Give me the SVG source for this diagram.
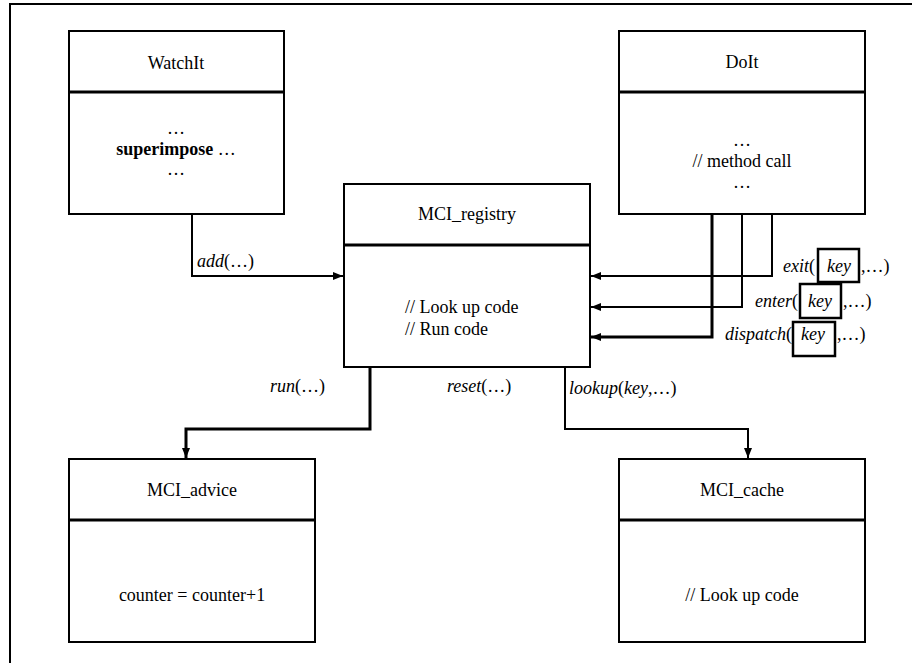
<svg xmlns="http://www.w3.org/2000/svg" width="912" height="663" viewBox="0 0 912 663">
<defs>
<marker id="ah" viewBox="0 0 10 8" refX="10" refY="4" markerWidth="10" markerHeight="8" markerUnits="userSpaceOnUse" orient="auto">
<path d="M0,0 L10,4 L0,8 z" fill="#000"/>
</marker>
<style>
.c{text-anchor:middle}
.i{font-style:italic}
.b{font-weight:bold}
.box{fill:#fff;stroke:#000;stroke-width:2}
.sep{stroke:#000;stroke-width:3}
.ln{fill:none;stroke:#000;stroke-width:2}
.th{fill:none;stroke:#000;stroke-width:3}
.kb{fill:none;stroke:#000;stroke-width:2.5}
</style>
</defs>
<rect width="912" height="663" fill="#fff"/>
<path d="M10,667 V4 H916" fill="none" stroke="#000" stroke-width="2"/>
<g font-family="'Liberation Serif', serif" font-size="18" fill="#000">
<g id="connectors">
<path class="ln" d="M192,214 V276 H343" marker-end="url(#ah)"/>
<path class="ln" d="M772,214 V276 H591" marker-end="url(#ah)"/>
<path class="ln" d="M742,214 V307 H591" marker-end="url(#ah)"/>
<path class="th" d="M712,214 V337 H591" marker-end="url(#ah)"/>
<path class="th" d="M370,367 V429 H186 V458" marker-end="url(#ah)"/>
<path class="ln" d="M565,367 V429 H748 V458" marker-end="url(#ah)"/>
<text x="197" y="267"><tspan class="i">add</tspan>(…)</text>
<text x="815" y="272" text-anchor="end"><tspan class="i">exit</tspan>(</text>
<rect class="kb" x="818" y="249" width="41" height="33"/>
<text x="839" y="272" class="c i">key</text>
<text x="861" y="272">,…)</text>
<text x="798" y="307" text-anchor="end"><tspan class="i">enter</tspan>(</text>
<rect class="kb" x="800" y="284" width="41" height="34"/>
<text x="820" y="307" class="c i">key</text>
<text x="843" y="307">,…)</text>
<text x="792" y="340" text-anchor="end"><tspan class="i">dispatch</tspan>(</text>
<rect class="kb" x="793" y="322" width="42" height="34"/>
<text x="813" y="340" class="c i">key</text>
<text x="837" y="340">,…)</text>
<text x="270" y="392"><tspan class="i">run</tspan>(…)</text>
<text x="447" y="392"><tspan class="i">reset</tspan>(…)</text>
<text x="569" y="394"><tspan class="i">lookup</tspan>(<tspan class="i">key</tspan>,…)</text>
</g>

<g id="WatchIt">
<rect class="box" x="69" y="31" width="215" height="183"/>
<line class="sep" x1="69" y1="92" x2="284" y2="92"/>
<text x="176" y="69" class="c">WatchIt</text>
<text x="176" y="134" class="c">…</text>
<text x="176" y="155" class="c"><tspan class="b">superimpose</tspan> …</text>
<text x="176" y="175" class="c">…</text>
</g>

<g id="DoIt">
<rect class="box" x="619" y="31" width="246" height="183"/>
<line class="sep" x1="619" y1="92" x2="865" y2="92"/>
<text x="742" y="68" class="c">DoIt</text>
<text x="742" y="146" class="c">…</text>
<text x="742" y="167" class="c">// method call</text>
<text x="742" y="188" class="c">…</text>
</g>

<g id="MCI_registry">
<rect class="box" x="344" y="184" width="246" height="183"/>
<line class="sep" x1="344" y1="245" x2="590" y2="245"/>
<text x="467" y="220" class="c">MCI_registry</text>
<text x="405" y="313">// Look up code</text>
<text x="405" y="335">// Run code</text>
</g>

<g id="MCI_advice">
<rect class="box" x="69" y="459" width="246" height="183"/>
<line class="sep" x1="69" y1="520" x2="315" y2="520"/>
<text x="192" y="496" class="c">MCI_advice</text>
<text x="192" y="601" class="c">counter = counter+1</text>
</g>

<g id="MCI_cache">
<rect class="box" x="619" y="459" width="246" height="183"/>
<line class="sep" x1="619" y1="520" x2="865" y2="520"/>
<text x="742" y="496" class="c">MCI_cache</text>
<text x="742" y="601" class="c">// Look up code</text>
</g>
</g>
</svg>
